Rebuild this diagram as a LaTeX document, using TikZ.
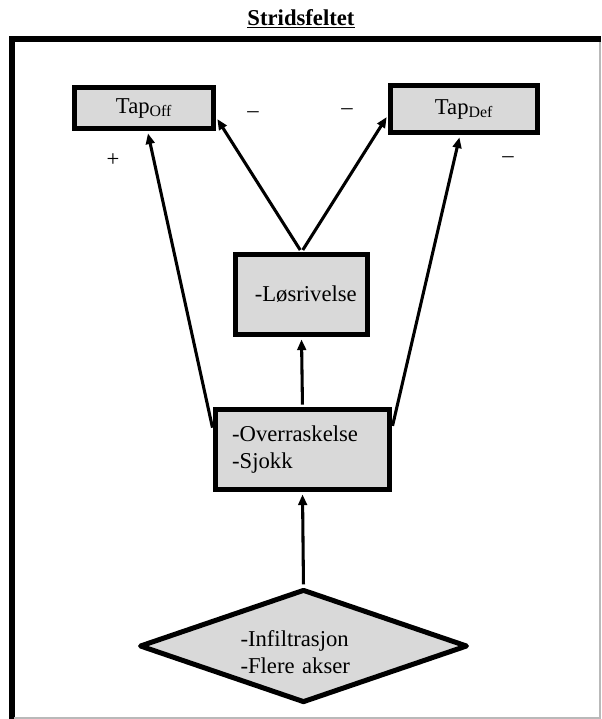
\documentclass[tikz,border=0pt]{standalone}
\usepackage{fontspec}
\setmainfont{Liberation Serif}
\usepackage{xcolor}
\usetikzlibrary{shapes.geometric, arrows.meta}
\definecolor{boxgray}{HTML}{D9D9D9}

\begin{document}
\begin{tikzpicture}[
			x=0.75pt, y=-0.75pt,
			every node/.style={font=\fontsize{17}{20}\selectfont},
			loss/.style={draw, line width=3.75pt, fill=boxgray, inner sep=0pt, align=center},
			factor/.style={draw, line width=3.75pt, fill=boxgray, minimum height=60pt, inner ysep=0pt, align=left},
			cause/.style={diamond, draw, line width=3.75pt, line join=round, fill=boxgray, aspect=2.9, inner sep=0pt, minimum width=246pt, minimum height=85pt, text width=94.5pt, align=left},
			sign/.style={inner sep=0pt},
			arrow/.style={-{Triangle[length=8pt, width=6.5pt]}, line width=2.3pt, shorten <=1.8pt, shorten >=1.8pt}
			]
			\useasboundingbox (0,0) rectangle (601,719);
			
			% Frame
			\draw [line width=4.5pt] (12,719) -- (12,39) -- (601,39);
			\draw [gray!55, line width=1.5pt] (14,718) -- (600,718) -- (600,42);
			
			% Nodes
			\node (title) [anchor=base] at (301,25) {\textbf{\underline{Stridsfeltet}}};
			\node (tapoff) [loss, minimum width=104.25pt, minimum height=30.75pt] at (144,108) {Tap\textsubscript{Off}};
			\node (tapdef) [loss, minimum width=110.25pt, minimum height=35.25pt] at (464,109) {Tap\textsubscript{Def}};
			\node (loes) [factor, text width=70pt, inner xsep=14.5pt] at (301.5,294.5) {\mbox{-Løsrivelse}};
			\node (surprise) [factor, text width=105.5pt, inner xsep=12.5pt] at (302.5,449.5) {\mbox{-Overraskelse}\\-Sjokk};
			\node (infil) [cause] at (303.5,646) {\rule{0pt}{21pt}-Infiltrasjon\\-Flere akser};
			
			% Signs
			\node (plusoff) [sign] at (113,160) {+};
			\node (minusoff) [sign] at (253,115) {–};
			\node (minusdef) [sign] at (347,112) {–};
			\node (minusright) [sign] at (508,160) {–};
			
			% Connections
			\draw [arrow] (infil.north) -- (surprise.south);
			\draw [arrow] (surprise.north) -- (loes.south);
			\draw [arrow] (loes.north) -- ([yshift=-6.75pt]tapoff.east);
			\draw [arrow] (loes.north) -- ([yshift=-4.5pt]tapdef.west);
			\draw [arrow] ([yshift=14.6pt]surprise.west) -- ([xshift=2.6pt]tapoff.south);
			\draw [arrow] ([yshift=16pt]surprise.east) -- ([xshift=-3pt]tapdef.south);
			
		\end{tikzpicture}
\end{document}
